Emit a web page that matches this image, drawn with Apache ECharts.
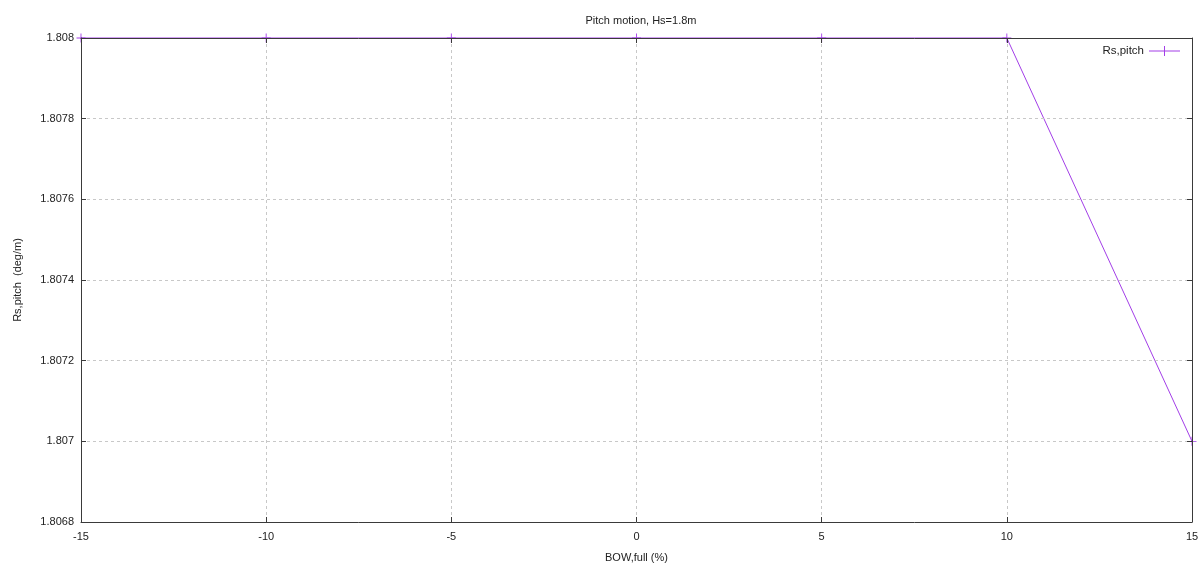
<!DOCTYPE html>
<html><head><meta charset="utf-8">
<script src="https://cdn.jsdelivr.net/npm/echarts@6/dist/echarts.min.js"></script>
<style>html,body{margin:0;padding:0;background:#fff}#c{width:1200px;height:565px}</style>
</head><body><div id="c"></div>
<script>
const xValues = [-15, -10, -5, 0, 5, 10, 15];
const rsPitch = [1.808, 1.808, 1.808, 1.808, 1.808, 1.808, 1.807];
const xTicks = {min: -15, max: 15, interval: 5};
const yTicks = {min: 1.8068, max: 1.808, interval: 0.0002};

const FONT = 'Liberation Sans';
const COLOR = '#a33ee8';
const plus = 'path://M0,4.5h10v1h-10z M4.5,0h1v10h-1z';
const legendIcon = 'path://M0,4.6h31v0.8h-31z M15,0h1v10h-1z';
const fmtY = v => parseFloat(v.toFixed(4)).toString();
const mkBase = () => ({
  z: 10,
  axisLine: {show: true, onZero: false, lineStyle: {color: '#3a3a3a', width: 1}},
  axisTick: {show: true, inside: true, length: 5, lineStyle: {color: '#3a3a3a'}},
});
const chart = echarts.init(document.getElementById('c'));
chart.setOption({
  animation: false,
  backgroundColor: '#fff',
  title: {text: 'Pitch motion, Hs=1.8m', left: 636, textAlign: 'center', top: 10,
    textStyle: {fontFamily: FONT, fontSize: 11, fontWeight: 'normal', color: '#222'}},
  legend: {right: 15, top: 40, align: 'right', itemWidth: 31, itemHeight: 10,
    icon: legendIcon, 
    textStyle: {fontFamily: FONT, fontSize: 11.5, color: '#222'},
    data: [{name: 'Rs,pitch', itemStyle: {color: COLOR}}]},
  grid: {left: 81, right: 8, top: 38, bottom: 43, outerBoundsMode: 'none', containLabel: false},
  xAxis: [
    Object.assign(mkBase(), {type: 'value', position: 'bottom', min: xTicks.min, max: xTicks.max, interval: xTicks.interval,
      name: 'BOW,full (%)', nameLocation: 'middle', nameGap: 30,
      nameTextStyle: {fontFamily: FONT, fontSize: 11, color: '#222'},
      axisLabel: {fontFamily: FONT, fontSize: 11, color: '#222', margin: 9},
      splitLine: {show: true, lineStyle: {color: '#c8c8c8', type: [3, 3], width: 1}}}),
    Object.assign(mkBase(), {type: 'value', position: 'top', min: xTicks.min, max: xTicks.max, interval: xTicks.interval,
      axisLabel: {show: false}, splitLine: {show: false}})
  ],
  yAxis: [
    Object.assign(mkBase(), {type: 'value', position: 'left', min: yTicks.min, max: yTicks.max, interval: yTicks.interval,
      name: 'Rs,pitch  (deg/m)', nameLocation: 'middle', nameGap: 58, nameRotate: 90,
      nameTextStyle: {fontFamily: FONT, fontSize: 11, color: '#222'},
      axisLabel: {fontFamily: FONT, fontSize: 11, color: '#222', margin: 7, formatter: fmtY},
      splitLine: {show: true, lineStyle: {color: '#c8c8c8', type: [3, 3], width: 1}}}),
    Object.assign(mkBase(), {type: 'value', position: 'right', min: yTicks.min, max: yTicks.max, interval: yTicks.interval,
      axisLabel: {show: false}, splitLine: {show: false}})
  ],
  series: [{
    name: 'Rs,pitch', type: 'line', xAxisIndex: 0, yAxisIndex: 0,
    data: xValues.map((x, i) => [x, rsPitch[i]]),
    symbol: plus, symbolSize: 9, showAllSymbol: true,
    lineStyle: {color: COLOR, width: 1},
    itemStyle: {color: COLOR},
    clip: false, z: 2
  }]
});
</script></body></html>
